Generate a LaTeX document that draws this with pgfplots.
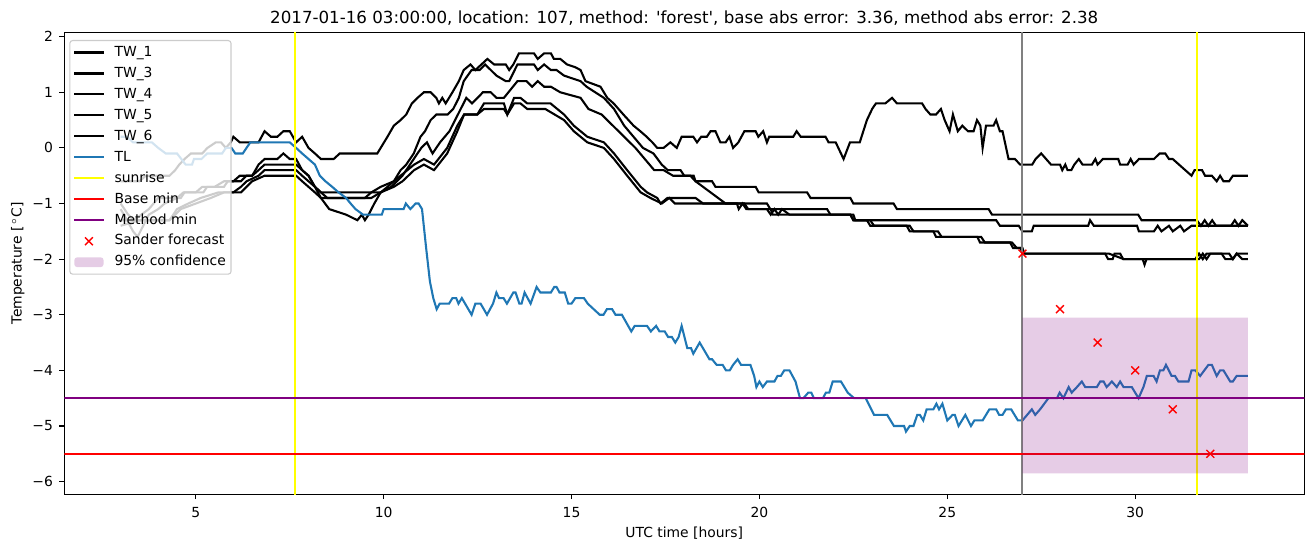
\documentclass[border=0pt]{standalone}
\usepackage{fontspec}
\setmainfont{DejaVu Sans}
\usepackage{pgfplots}
\pgfplotsset{compat=1.18}

\definecolor{tlblue}{HTML}{1F77B4}
\definecolor{mplpurple}{HTML}{800080}
\definecolor{mplgray}{HTML}{808080}
\definecolor{mplyellow}{HTML}{FFFF00}
\definecolor{mplred}{HTML}{FF0000}
\definecolor{legframe}{HTML}{CCCCCC}

\pgfplotsset{
    legend image code/.code={\draw[mark repeat=2,mark phase=2,#1] plot coordinates {(0pt,0pt) (10.5pt,0pt) (21pt,0pt)};},
    conf legend/.style={legend image code/.code={\fill[##1] (0pt,-3.5pt) rectangle (21pt,3.5pt);}},
}

\begin{document}
\begin{tikzpicture}
\path[use as bounding box] (-46.3pt,-37.9pt) rectangle (899.1pt,355.9pt);
\begin{axis}[
    scale only axis,
    width=892.8pt, height=332.6pt,
    xmin=1.5, xmax=34.5, ymin=-6.2275, ymax=2.0775,
    xtick={5,10,15,20,25,30},
    xticklabels={5,10,15,20,25,30},
    ytick={-6,-5,-4,-3,-2,-1,0,1,2},
    yticklabels={−6,−5,−4,−3,−2,−1,0,1,2},
    tick align=outside, tick pos=left,
    major tick length=3.5pt,
    every tick/.style={black, line width=0.8pt},
    axis line style={line width=0.8pt},
    ticklabel style={font=\fontsize{10}{12}\selectfont, inner sep=0pt},
    xticklabel style={anchor=north, yshift=-5.5pt},
    yticklabel style={anchor=east, xshift=-4.5pt},
    xlabel={UTC time [hours]},
    label style={font=\fontsize{10}{12}\selectfont},
    xlabel style={at={(axis description cs:0.5,0)}, anchor=base, yshift=-30.8pt},
    title={2017-01-16 03:00:00, location: 107, method: \textquotesingle forest\textquotesingle, base abs error: 3.36, method abs error: 2.38},
    title style={font=\fontsize{12}{14}\selectfont, at={(axis description cs:0.5,1)}, anchor=base, yshift=0.6pt},
    legend cell align=left,
    legend style={
        at={(axis description cs:0,1)}, anchor=north west, xshift=3.6pt, yshift=-5.5pt,
        draw=legframe, line width=0.8pt, fill=white, fill opacity=0.8, draw opacity=1, text opacity=1,
        rounded corners=2pt,
        font=\fontsize{10}{12}\selectfont,
        inner sep=2.5pt, row sep=2.9pt, column sep=6pt,
        nodes={inner sep=1.2pt, text height=7.6pt, text depth=2.2pt},
    },
]

% TW_1
\addplot[black, line width=1.5pt] coordinates {
(3.0,-0.6) (3.5,-0.6) (3.67,-0.5) (4.17,-0.5) (4.3,-0.5) (4.45,-0.4) (4.56,-0.3) (4.7,-0.2)
(4.87,-0.1) (5.17,-0.1) (5.31,0.0) (5.53,0.1) (5.67,0.1) (5.8,0.0) (5.93,0.1) (6.0,0.2)
(6.17,0.1) (6.67,0.1) (6.83,0.3) (7.0,0.2) (7.17,0.2) (7.33,0.3) (7.5,0.3) (7.67,0.1)
(7.83,0.2) (8.0,0.0) (8.17,-0.1) (8.33,-0.2) (8.67,-0.2) (8.83,-0.1) (9.83,-0.1) (9.92,0.0)
(10.1,0.2) (10.27,0.4) (10.45,0.5) (10.6,0.6) (10.75,0.8) (10.9,0.9) (11.07,1.0) (11.25,1.0)
(11.4,0.9) (11.47,0.8) (11.56,0.9) (11.65,0.8) (11.83,1.0) (12.0,1.2) (12.13,1.4) (12.31,1.5)
(12.44,1.4) (12.6,1.5) (12.76,1.6) (12.94,1.5) (13.25,1.5) (13.34,1.4) (13.45,1.5) (13.6,1.7)
(14.0,1.7) (14.1,1.6) (14.27,1.7) (14.45,1.7) (14.53,1.6) (14.7,1.6) (14.88,1.5) (15.1,1.45)
(15.24,1.4) (15.37,1.2) (15.77,1.1) (15.95,0.9) (16.12,0.8) (16.38,0.6) (16.65,0.4) (16.83,0.3)
(17.0,0.2) (17.15,0.1) (17.28,0.0) (17.45,0.0) (17.63,0.1) (17.8,0.0) (17.93,0.2) (18.24,0.2)
(18.34,0.1) (18.45,0.2) (18.6,0.2) (18.7,0.3) (18.83,0.3) (18.96,0.1) (19.1,0.1) (19.2,0.2)
(19.3,0.0) (19.44,0.1) (19.6,0.3) (19.9,0.3) (19.97,0.2) (20.1,0.3) (20.2,0.1) (20.26,0.2)
(20.9,0.2) (20.99,0.3) (21.1,0.2) (21.76,0.2) (21.84,0.1) (22.03,0.1) (22.24,-0.2) (22.41,0.1)
(22.67,0.1) (22.86,0.5) (23.0,0.7) (23.1,0.8) (23.35,0.8) (23.53,0.9) (23.66,0.8) (24.33,0.8)
(24.42,0.7) (24.55,0.6) (24.7,0.6) (24.83,0.7) (24.93,0.5) (25.06,0.3) (25.15,0.6) (25.28,0.3)
(25.4,0.4) (25.55,0.3) (25.7,0.3) (25.79,0.5) (25.88,0.4) (25.94,0.0) (26.03,0.4) (26.23,0.4)
(26.3,0.5) (26.4,0.3) (26.47,0.3) (26.63,-0.2) (26.8,-0.2) (26.94,-0.3) (27.26,-0.3) (27.35,-0.2)
(27.5,-0.1) (27.63,-0.2) (27.76,-0.3) (28.0,-0.3) (28.06,-0.4) (28.14,-0.3) (28.2,-0.4) (28.3,-0.4)
(28.38,-0.3) (28.5,-0.2) (28.6,-0.3) (28.85,-0.3) (28.94,-0.2) (29.0,-0.3) (29.14,-0.2) (29.55,-0.2)
(29.6,-0.3) (29.8,-0.3) (29.88,-0.2) (29.96,-0.3) (30.1,-0.2) (30.5,-0.2) (30.65,-0.1) (30.8,-0.1)
(30.9,-0.2) (31.0,-0.2) (31.5,-0.5) (31.58,-0.4) (31.78,-0.4) (31.86,-0.5) (32.04,-0.5) (32.17,-0.6)
(32.26,-0.5) (32.35,-0.6) (32.5,-0.6) (32.6,-0.5) (33.0,-0.5)
};
\addlegendentry{TW\_1}

% TW_3
\addplot[black, line width=1.5pt] coordinates {
(3.0,-1.1) (3.17,-1.3) (3.33,-1.5) (3.45,-1.6) (3.6,-1.4) (3.75,-1.2) (4.0,-1.1) (4.17,-1.0)
(4.5,-0.9) (4.67,-0.8) (5.0,-0.8) (5.17,-0.7) (5.5,-0.7) (5.75,-0.6) (6.0,-0.6) (6.17,-0.5)
(6.5,-0.5) (6.67,-0.3) (6.83,-0.2) (7.17,-0.2) (7.33,-0.1) (7.5,-0.2) (7.67,-0.2) (7.83,-0.4)
(8.0,-0.5) (8.17,-0.7) (8.33,-0.9) (8.55,-1.1) (9.0,-1.2) (9.3,-1.3) (9.42,-1.2) (9.5,-1.3)
(9.6,-1.2) (9.75,-1.0) (9.92,-0.8) (10.1,-0.7) (10.27,-0.6) (10.45,-0.4) (10.6,-0.3) (10.8,-0.1)
(10.98,0.2) (11.1,0.3) (11.25,0.5) (11.4,0.6) (11.7,0.6) (11.85,0.7) (12.0,0.9) (12.13,1.2)
(12.34,1.4) (12.55,1.4) (12.7,1.5) (12.85,1.4) (13.0,1.3) (13.25,1.2) (13.34,1.2) (13.56,1.5)
(14.0,1.5) (14.1,1.4) (14.27,1.5) (14.45,1.4) (14.6,1.4) (14.8,1.3) (15.24,1.2) (15.4,1.1)
(15.86,0.9) (16.13,0.7) (16.4,0.4) (16.65,0.2) (16.9,0.0) (17.18,-0.1) (17.4,-0.3) (17.56,-0.4)
(17.9,-0.4) (18.0,-0.5) (18.25,-0.5) (18.3,-0.6) (18.74,-0.6) (18.83,-0.7) (19.9,-0.7) (19.98,-0.8)
(21.27,-0.8) (21.36,-0.9) (22.42,-0.9) (22.5,-1.0) (23.57,-1.0) (23.66,-1.1) (26.1,-1.1) (26.19,-1.2)
(30.08,-1.2) (30.17,-1.3) (31.64,-1.3) (31.75,-1.4) (31.85,-1.3) (31.95,-1.4) (32.05,-1.3) (32.15,-1.4)
(32.55,-1.4) (32.65,-1.3) (32.75,-1.4) (32.85,-1.3) (33.0,-1.4)
};
\addlegendentry{TW\_3}

% TW_4
\addplot[black, line width=1.5pt] coordinates {
(3.0,-1.0) (3.2,-1.2) (3.35,-1.3) (3.55,-1.2) (3.75,-1.1) (4.0,-0.9) (4.6,-0.9) (4.7,-0.8)
(5.2,-0.8) (5.3,-0.7) (5.75,-0.7) (5.85,-0.6) (6.2,-0.6) (6.35,-0.5) (6.5,-0.5) (6.67,-0.4)
(6.83,-0.3) (7.67,-0.3) (7.83,-0.4) (8.0,-0.5) (8.17,-0.7) (8.33,-0.8) (9.92,-0.8) (10.2,-0.7)
(10.5,-0.5) (10.8,-0.2) (11.0,0.0) (11.15,0.1) (11.3,-0.1) (11.5,0.1) (11.75,0.3) (12.05,0.7)
(12.2,0.9) (12.35,0.8) (12.5,0.9) (12.64,1.0) (12.85,1.0) (13.0,0.9) (13.2,0.9) (13.56,1.2)
(13.8,1.2) (13.95,1.1) (14.1,1.2) (14.27,1.1) (14.45,1.1) (14.7,1.0) (15.24,0.9) (15.45,0.7)
(15.8,0.6) (16.1,0.4) (16.4,0.2) (16.7,0.0) (16.95,-0.2) (17.2,-0.4) (17.45,-0.4) (17.7,-0.5)
(18.16,-0.5) (18.3,-0.6) (18.5,-0.7) (18.7,-0.8) (18.9,-0.9) (19.1,-1.0) (20.2,-1.0) (20.29,-1.1)
(21.8,-1.1) (21.89,-1.2) (22.42,-1.2) (22.5,-1.3) (26.3,-1.3) (26.4,-1.4) (26.9,-1.4) (27.0,-1.5)
(27.25,-1.5) (27.3,-1.4) (28.75,-1.4) (28.8,-1.3) (28.9,-1.4) (30.05,-1.4) (30.1,-1.5) (30.5,-1.5)
(30.6,-1.4) (30.7,-1.5) (30.9,-1.4) (31.0,-1.5) (31.2,-1.4) (31.3,-1.5) (31.5,-1.4) (33.0,-1.4)
};
\addlegendentry{TW\_4}

% TW_5
\addplot[black, line width=1.5pt] coordinates {
(3.0,-1.3) (4.3,-1.3) (4.5,-1.1) (4.8,-1.0) (5.13,-0.9) (5.6,-0.8) (6.0,-0.8) (6.2,-0.7)
(6.35,-0.6) (6.67,-0.5) (6.83,-0.4) (7.67,-0.4) (7.83,-0.5) (8.0,-0.6) (8.17,-0.7) (8.33,-0.8)
(8.5,-0.9) (9.5,-0.9) (9.67,-0.8) (9.92,-0.7) (10.27,-0.6) (10.45,-0.5) (10.81,-0.3) (11.07,-0.2)
(11.34,-0.3) (11.69,0.0) (11.96,0.4) (12.14,0.6) (12.49,0.6) (12.67,0.8) (12.85,0.8) (13.2,0.8)
(13.29,0.6) (13.47,0.9) (13.64,0.9) (13.82,0.8) (14.44,0.8) (14.8,0.6) (15.06,0.4) (15.42,0.2)
(15.86,0.1) (16.13,-0.1) (16.48,-0.4) (16.84,-0.7) (17.01,-0.8) (17.28,-0.9) (17.37,-1.0) (17.55,-0.9)
(18.3,-0.9) (18.5,-1.0) (19.4,-1.0) (19.45,-1.1) (19.55,-1.0) (19.65,-1.1) (20.2,-1.1) (20.3,-1.2)
(20.4,-1.1) (20.5,-1.2) (20.6,-1.1) (20.8,-1.2) (22.42,-1.2) (22.5,-1.3) (22.86,-1.3) (22.95,-1.4)
(23.92,-1.4) (24.0,-1.5) (24.63,-1.5) (24.7,-1.6) (25.8,-1.6) (25.87,-1.7) (26.67,-1.7) (26.75,-1.8)
(26.95,-1.8) (27.0,-1.9) (29.2,-1.9) (29.28,-2.0) (29.4,-2.0) (29.45,-1.9) (29.6,-1.9) (29.68,-2.0)
(30.2,-2.0) (30.25,-2.1) (30.3,-2.0) (31.6,-2.0) (31.7,-1.9) (31.8,-2.0) (31.9,-1.9) (32.3,-1.9)
(32.4,-2.0) (32.6,-2.0) (32.7,-1.9) (33.0,-1.9)
};
\addlegendentry{TW\_5}

% TW_6
\addplot[black, line width=1.5pt] coordinates {
(3.0,-1.4) (3.5,-1.3) (4.3,-1.3) (4.6,-1.1) (5.0,-1.0) (5.4,-0.9) (5.75,-0.8) (6.2,-0.8)
(6.35,-0.7) (6.5,-0.6) (6.83,-0.5) (7.67,-0.5) (7.83,-0.6) (8.0,-0.7) (8.17,-0.8) (8.33,-0.9)
(9.67,-0.9) (9.92,-0.8) (10.27,-0.7) (10.5,-0.6) (10.81,-0.4) (11.07,-0.3) (11.34,-0.4) (11.69,-0.1)
(11.96,0.3) (12.14,0.6) (12.49,0.6) (12.67,0.7) (13.2,0.7) (13.29,0.6) (13.47,0.8) (13.64,0.8)
(13.82,0.7) (14.3,0.7) (14.8,0.5) (15.06,0.3) (15.42,0.1) (15.86,0.0) (16.13,-0.2) (16.48,-0.5)
(16.84,-0.8) (17.1,-0.9) (17.4,-1.0) (17.6,-0.9) (17.75,-1.0) (19.6,-1.0) (19.7,-1.1) (20.3,-1.1)
(20.35,-1.2) (22.5,-1.2) (22.55,-1.3) (22.95,-1.3) (23.05,-1.4) (24.0,-1.4) (24.1,-1.5) (24.75,-1.5)
(24.85,-1.6) (25.9,-1.6) (26.0,-1.7) (26.72,-1.7) (26.85,-1.8) (27.0,-1.8) (27.05,-1.9) (29.3,-1.9)
(29.7,-2.0) (30.3,-2.0) (31.7,-2.0) (31.8,-1.9) (31.9,-2.0) (32.0,-1.9) (32.5,-1.9) (32.6,-2.0)
(32.7,-1.9) (32.85,-2.0) (33.0,-2.0)
};
\addlegendentry{TW\_6}

% TL
\addplot[tlblue, line width=1.5pt] coordinates {
(3.0,0.2) (3.17,0.2) (3.33,0.1) (3.83,0.1) (4.0,0.0) (4.2,-0.1) (4.5,-0.1) (4.73,-0.3)
(4.9,-0.3) (4.95,-0.2) (5.15,-0.2) (5.3,-0.1) (5.7,-0.1) (5.8,0.0) (5.95,0.0) (6.05,-0.1)
(6.25,-0.1) (6.35,0.0) (6.45,0.1) (7.5,0.1) (7.67,0.0) (7.83,-0.1) (8.0,-0.2) (8.17,-0.3)
(8.3,-0.5) (8.45,-0.6) (8.63,-0.7) (8.8,-0.8) (9.0,-0.9) (9.12,-1.0) (9.25,-1.1) (9.45,-1.2)
(9.95,-1.2) (10.0,-1.1) (10.53,-1.1) (10.59,-1.0) (10.71,-1.1) (10.85,-1.0) (10.93,-1.0) (11.02,-1.1)
(11.13,-1.8) (11.23,-2.4) (11.32,-2.7) (11.41,-2.9) (11.49,-2.8) (11.74,-2.8) (11.83,-2.7) (11.93,-2.7)
(11.99,-2.8) (12.08,-2.7) (12.34,-3.0) (12.44,-2.8) (12.58,-2.8) (12.75,-3.0) (12.91,-2.8) (13.0,-2.6)
(13.07,-2.7) (13.19,-2.7) (13.28,-2.8) (13.45,-2.6) (13.51,-2.6) (13.61,-2.8) (13.67,-2.8) (13.75,-2.6)
(13.91,-2.8) (14.07,-2.5) (14.17,-2.6) (14.45,-2.6) (14.54,-2.5) (14.6,-2.5) (14.68,-2.6) (14.82,-2.6)
(14.91,-2.8) (15.0,-2.8) (15.1,-2.7) (15.33,-2.7) (15.43,-2.8) (15.75,-3.0) (15.85,-3.0) (15.94,-2.9)
(16.08,-2.9) (16.17,-3.0) (16.34,-3.0) (16.59,-3.3) (16.68,-3.2) (17.01,-3.2) (17.11,-3.3) (17.25,-3.2)
(17.34,-3.3) (17.48,-3.3) (17.57,-3.4) (17.67,-3.4) (17.76,-3.5) (17.85,-3.4) (17.93,-3.2) (18.08,-3.6)
(18.18,-3.6) (18.24,-3.7) (18.41,-3.5) (18.67,-3.8) (18.74,-3.8) (18.86,-3.9) (19.02,-3.9) (19.11,-4.0)
(19.21,-4.0) (19.3,-3.9) (19.42,-3.8) (19.51,-3.9) (19.76,-3.9) (19.86,-4.1) (19.92,-4.3) (20.0,-4.2)
(20.09,-4.3) (20.2,-4.2) (20.4,-4.2) (20.48,-4.1) (20.57,-4.1) (20.66,-4.0) (20.8,-4.0) (20.96,-4.2)
(21.08,-4.5) (21.17,-4.5) (21.3,-4.4) (21.38,-4.4) (21.45,-4.5) (21.69,-4.5) (21.77,-4.4) (21.86,-4.4)
(21.95,-4.2) (22.17,-4.2) (22.35,-4.4) (22.52,-4.5) (22.83,-4.5) (23.05,-4.8) (23.4,-4.8) (23.58,-5.0)
(23.85,-5.0) (23.9,-5.1) (24.0,-5.0) (24.1,-5.0) (24.2,-4.8) (24.27,-4.8) (24.36,-4.9) (24.45,-4.7)
(24.63,-4.7) (24.71,-4.6) (24.78,-4.7) (24.87,-4.6) (25.0,-4.9) (25.14,-4.8) (25.2,-4.8) (25.3,-5.0)
(25.48,-4.8) (25.63,-5.0) (25.72,-4.9) (25.94,-4.9) (26.12,-4.7) (26.3,-4.7) (26.38,-4.8) (26.47,-4.8)
(26.56,-4.7) (26.7,-4.7) (26.88,-4.9) (27.0,-4.9) (27.25,-4.7) (27.34,-4.8) (27.47,-4.7) (27.69,-4.5)
(27.92,-4.5) (27.99,-4.4) (28.09,-4.5) (28.23,-4.3) (28.31,-4.4) (28.45,-4.3) (28.58,-4.2) (28.67,-4.3)
(28.98,-4.3) (29.07,-4.2) (29.16,-4.2) (29.24,-4.3) (29.38,-4.2) (29.51,-4.3) (29.6,-4.2) (29.69,-4.3)
(29.91,-4.3) (30.09,-4.5) (30.22,-4.3) (30.31,-4.1) (30.49,-4.1) (30.57,-4.2) (30.66,-4.0) (30.75,-4.0)
(30.82,-3.9) (30.97,-4.1) (31.06,-4.1) (31.15,-4.2) (31.42,-4.2) (31.5,-4.0) (31.6,-4.0) (31.73,-4.1)
(31.95,-3.9) (32.04,-3.9) (32.17,-4.1) (32.26,-4.0) (32.35,-4.0) (32.53,-4.2) (32.6,-4.2) (32.7,-4.1)
(33.0,-4.1)
};
\addlegendentry{TL}

% sunrise
\addplot[mplyellow, line width=1.5pt] coordinates {(7.65,-6.4) (7.65,2.3)};
\addlegendentry{sunrise}
\addplot[mplyellow, line width=1.5pt, forget plot] coordinates {(31.65,-6.4) (31.65,2.3)};
\addplot[mplgray, line width=1.5pt, forget plot] coordinates {(27.0,-6.4) (27.0,2.3)};

% base and method minimum
\addplot[mplred, line width=1.5pt] coordinates {(1.0,-5.5) (35.0,-5.5)};
\addlegendentry{Base min}
\addplot[mplpurple, line width=1.5pt] coordinates {(1.0,-4.5) (35.0,-4.5)};
\addlegendentry{Method min}

% Sander forecast
\addplot[only marks, mark=x, mark size=4pt, mplred, mark options={line width=1pt}] coordinates {
(27,-1.9) (28,-2.9) (29,-3.5) (30,-4.0) (31,-4.7) (32,-5.5)
};
\addlegendentry{Sander forecast}

% 95% confidence
\addplot[draw=none, fill=mplpurple, fill opacity=0.2, conf legend] coordinates {
(27,-5.85) (27,-3.05) (33,-3.05) (33,-5.85) (27,-5.85)
};
\addlegendentry{95\% confidence}

\end{axis}
% y label, placed by hand next to the tick labels
\node[font=\fontsize{10}{12}\selectfont, rotate=90, anchor=base] at (-30.7pt,166.3pt) {Temperature [\,$^\circ$C]};
\end{tikzpicture}
\end{document}
